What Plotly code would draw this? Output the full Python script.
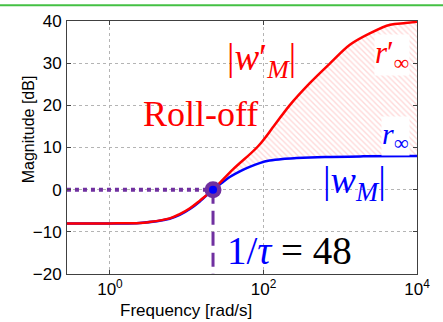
import plotly.graph_objects as go

# Frequencies [rad/s] and magnitudes [dB]
red_freq = [0.275, 1.0, 2.45, 3.16, 6.0, 8.1, 11.0, 14.8, 22.0, 40.0, 85.0, 138.0, 219.0,
            398.0, 741.0, 1349.0, 2455.0, 4467.0, 7079.0, 10000.0]
red_db = [-8.0, -8.0, -7.9, -7.7, -6.8, -5.8, -4.4, -2.6, 0.0, 4.8, 10.3, 15.2, 20.0,
          25.2, 30.0, 34.4, 37.1, 39.1, 39.5, 39.8]

blue_freq = [0.275, 1.0, 2.45, 6.0, 8.1, 11.0, 14.8, 22.0, 28.2, 36.3, 50.0, 66.0, 89.0,
             120.0, 178.0, 269.0, 631.0, 2000.0, 10000.0]
blue_db = [-8.0, -8.0, -7.9, -6.9, -6.0, -4.6, -2.8, 0.0, 1.5, 3.0, 4.4, 5.4, 6.3,
           6.9, 7.3, 7.5, 7.75, 7.9, 8.0]

corner_freq = 22.0
corner_db = 0.0
y_floor = -20

xtick_vals = [1, 100, 10000]
xtick_text = ["10<sup>0</sup>", "10<sup>2</sup>", "10<sup>4</sup>"]
ytick_vals = [-20, -10, 0, 10, 20, 30, 40]

RED = "#ff0000"
BLUE = "#0000ff"
PURPLE = "#7030a0"

i_r = red_freq.index(corner_freq)
i_b = blue_freq.index(corner_freq)

fig = go.Figure()
# hatched region between the curves (from the corner onward)
fig.add_trace(go.Scatter(x=blue_freq[i_b:], y=blue_db[i_b:], mode="lines",
                         line=dict(color="rgba(0,0,0,0)", width=0, shape="spline"),
                         showlegend=False, hoverinfo="skip"))
fig.add_trace(go.Scatter(x=red_freq[i_r:], y=red_db[i_r:], mode="lines",
                         line=dict(color="rgba(0,0,0,0)", width=0, shape="spline"),
                         fill="tonexty", fillcolor="rgba(0,0,0,0)",
                         fillpattern=dict(shape="\\", fgcolor="#ffb4b4", bgcolor="white",
                                          size=4, solidity=0.35),
                         showlegend=False, hoverinfo="skip"))
# curves
fig.add_trace(go.Scatter(x=blue_freq, y=blue_db, mode="lines",
                         line=dict(color=BLUE, width=2.5, shape="spline"), showlegend=False))
fig.add_trace(go.Scatter(x=red_freq, y=red_db, mode="lines",
                         line=dict(color=RED, width=2.5, shape="spline"), showlegend=False))
# purple guide lines
fig.add_trace(go.Scatter(x=[0.275, corner_freq], y=[corner_db, corner_db], mode="lines",
                         line=dict(color=PURPLE, width=4, dash="4px,4px"), showlegend=False))
fig.add_trace(go.Scatter(x=[corner_freq, corner_freq], y=[corner_db, y_floor], mode="lines",
                         line=dict(color=PURPLE, width=3, dash="14px,7px"), showlegend=False))
fig.add_trace(go.Scatter(x=[corner_freq], y=[corner_db], mode="markers",
                         marker=dict(color=PURPLE, size=17, line=dict(width=0)), showlegend=False))
fig.add_trace(go.Scatter(x=[corner_freq], y=[corner_db], mode="markers",
                         marker=dict(color=BLUE, size=8, line=dict(width=0)), showlegend=False))

serif = "Liberation Serif"
ann = [
    dict(x=261, y=57, text="|<i>w</i>′<sub><i>M</i></sub>|", font=dict(family=serif, size=37, color=RED)),
    dict(x=200, y=111, text="Roll-off", font=dict(family=serif, size=36, color=RED)),
    dict(x=354, y=182, text="|<i>w</i><sub><i>M</i></sub>|", font=dict(family=serif, size=38, color=BLUE)),
    dict(x=392, y=52, text="<i>r</i>′<sub>∞</sub>", font=dict(family=serif, size=31, color=RED),
         bgcolor="white"),
    dict(x=395, y=134, text="<i>r</i><sub>∞</sub>", font=dict(family=serif, size=30, color=BLUE),
         bgcolor="white"),
    dict(x=289, y=250, text="<span style='color:#0000ff'>1/<i>τ</i></span> = 48",
         font=dict(family=serif, size=39, color="black")),
    dict(x=186, y=311, text="Frequency [rad/s]",
         font=dict(family="Liberation Sans", size=17, color="black")),
    dict(x=28, y=127, text="Magnitude [dB]", textangle=-90,
         font=dict(family="Liberation Sans", size=16, color="black")),
]
annotations = []
for a in ann:
    a = dict(a)
    a.update(xref="paper", yref="paper", showarrow=False, xanchor="center", yanchor="middle",
             borderpad=0)
    # convert pixel positions to paper coords
    a["x"] = (a["x"] - 67) / 350
    a["y"] = (274 - a["y"]) / 257
    annotations.append(a)

fig.update_layout(
    width=443, height=322,
    margin=dict(l=67, r=26, t=17, b=48),
    paper_bgcolor="white", plot_bgcolor="white",
    font=dict(family="Liberation Sans", size=17, color="black"),
    annotations=annotations,
    shapes=[dict(type="line", xref="paper", yref="paper",
                 x0=-67 / 350, x1=1 + 26 / 350, y0=1 + 16 / 257, y1=1 + 16 / 257,
                 line=dict(color="#44c044", width=2))],
    xaxis=dict(type="log", range=[-0.56, 4], tickvals=xtick_vals, ticktext=xtick_text,
               showgrid=True, gridcolor="#b4b4b4", griddash="3px,3px", gridwidth=1,
               showline=True, linecolor="#404040", linewidth=1, mirror="ticks",
               ticks="inside", ticklen=4, tickcolor="#404040", zeroline=False),
    yaxis=dict(range=[-20, 40], tickvals=ytick_vals,
               showgrid=True, gridcolor="#b4b4b4", griddash="3px,3px", gridwidth=1,
               showline=True, linecolor="#404040", linewidth=1, mirror="ticks",
               ticks="inside", ticklen=4, tickcolor="#404040", zeroline=False,
               ticklabelstandoff=1),
)

fig.write_html("out.html")
